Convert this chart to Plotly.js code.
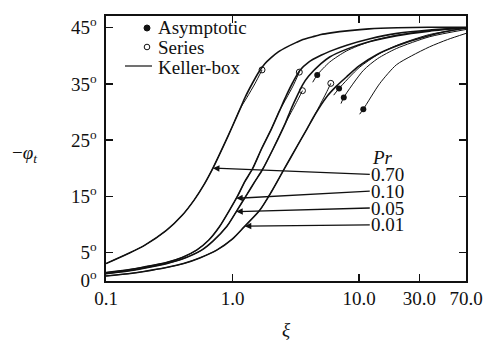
<!DOCTYPE html>
<html>
<head>
<meta charset="utf-8">
<script src="https://cdn.plot.ly/plotly-3.0.1.min.js"></script>
<style>html,body{margin:0;padding:0;background:#fff;}#chart{width:484px;height:342px;}</style>
</head>
<body>
<div id="chart"></div>
<script>
// ---------- data ----------
const prLabels = ['0.70', '0.10', '0.05', '0.01'];

// Keller-box solutions
const kb070Xi  = [0.1,0.15,0.2,0.3,0.4,0.5,0.6,0.7,0.85,1.0,1.15,1.25,1.45,1.6,1.8,2.0,2.3,2.7,3.2,3.6,4.3,5.0,6.0,8.4,12,20,35,70];
const kb070Deg = [3.0,4.8,6.2,8.9,11.6,14.4,17.2,20.0,24.0,27.5,30.6,32.5,35.3,37.0,38.6,39.6,40.7,41.6,42.4,42.9,43.4,43.8,44.1,44.5,44.8,45.0,45.1,45.1];
const kb010Xi  = [0.1,0.15,0.2,0.3,0.4,0.52,0.65,0.79,0.94,1.1,1.25,1.44,1.7,2.03,2.35,2.67,3.0,3.4,4.0,5.0,5.86,8,12,20,36,70];
const kb010Deg = [1.4,1.9,2.4,3.2,4.1,5.4,7.2,9.6,12.4,15.1,17.6,19.9,23.5,27.0,30.2,33.0,35.3,37.4,38.9,40.1,40.8,41.9,43.0,44.0,44.6,45.0];
const kb005Xi  = [0.1,0.15,0.2,0.3,0.4,0.57,0.7,0.9,1.08,1.29,1.5,1.73,2.1,2.59,2.9,3.2,3.57,4.0,5.0,5.86,8,12,20,36,70];
const kb005Deg = [1.2,1.7,2.2,3.0,3.8,5.4,7.0,9.6,12.4,15.2,17.6,19.8,23.5,27.8,30.5,32.6,34.8,36.4,38.6,39.8,41.2,42.5,43.6,44.4,45.0];
const kb001Xi  = [0.1,0.15,0.2,0.3,0.41,0.55,0.75,1.0,1.23,1.64,2.03,2.51,3.2,3.88,4.5,5.5,6.62,8,10,14,20,28,40,70];
const kb001Deg = [0.8,1.2,1.6,2.3,3.0,4.0,5.4,7.4,9.5,12.5,15.8,19.5,23.7,27.0,29.6,32.6,34.6,36.3,38.2,40.3,41.8,42.9,43.9,45.0];

// Series solutions (small xi), ending at the open circles
const se070Xi  = [0.1,0.15,0.2,0.3,0.4,0.5,0.6,0.7,0.85,1.0,1.15,1.3,1.5,1.71];
const se070Deg = [3.0,4.8,6.2,8.9,11.6,14.4,17.2,20.0,24.0,27.5,30.6,32.6,35.0,37.5];
const se010Xi  = [0.1,0.15,0.2,0.3,0.4,0.52,0.65,0.79,0.94,1.1,1.25,1.44,1.7,2.03,2.35,2.67,3.0,3.37];
const se010Deg = [1.4,1.9,2.4,3.2,4.1,5.4,7.2,9.6,12.4,15.1,17.6,19.9,23.5,27.0,30.2,32.5,34.6,37.1];
const se005Xi  = [0.1,0.15,0.2,0.3,0.4,0.57,0.7,0.9,1.08,1.29,1.5,1.73,2.1,2.59,2.9,3.2,3.57];
const se005Deg = [1.2,1.7,2.2,3.0,3.8,5.4,7.0,9.6,12.4,15.2,17.6,19.8,23.5,27.8,29.9,31.7,33.8];
const se001Xi  = [0.1,0.15,0.2,0.3,0.41,0.55,0.75,1.0,1.23,1.64,2.03,2.51,3.2,3.88,4.5,5.0,5.5,5.98];
const se001Deg = [0.8,1.2,1.6,2.3,3.0,4.0,5.4,7.4,9.5,12.5,15.8,19.5,23.7,27.0,29.6,31.6,33.4,35.1];

// Asymptotic solutions (large xi), starting at the filled dots
const asAXi  = [4.3,4.67,5.86,8,12,20,40,70];
const asADeg = [35.3,36.6,38.9,40.9,42.5,43.7,44.6,45.0];
const asBXi  = [6.3,6.95,10,14,20,36,70];
const asBDeg = [33.0,34.2,37.9,40.2,41.9,43.8,44.9];
const asCXi  = [7.2,7.57,10.8,14,19.7,36,70];
const asCDeg = [31.5,32.6,37.4,39.5,41.3,43.4,44.7];
const asDXi  = [10.1,10.8,14.6,19.7,26,36,50,70];
const asDDeg = [29.6,30.5,35.1,38.4,40.0,41.6,42.9,44.0];

const asymDotXi  = [4.67,6.95,7.57,10.8];
const asymDotDeg = [36.6,34.2,32.6,30.5];
const seriesEndXi  = [1.71,3.37,3.57,5.98];
const seriesEndDeg = [37.5,37.1,33.8,35.1];

// label arrows: xi where each arrow touches its Keller-box curve, and label level
const arrowTipXi = [0.70,1.07,1.07,1.25];
const labelDeg   = [18.9,15.9,12.9,9.9];
const labelXi    = 12.15;

const xTickVals = [0.1,1,10,30,70];
const xTickText = ['0.1','1.0','10.0','30.0','70.0'];
const yTickVals = [0,5,15,25,35,45];
const yTickText = yTickVals.map(v => v + '<sup>o</sup>');

// ---------- drawing ----------
const FONT = 'Liberation Serif, Times New Roman, serif';
const K = '#111';

const kbSets = [[kb070Xi,kb070Deg],[kb010Xi,kb010Deg],[kb005Xi,kb005Deg],[kb001Xi,kb001Deg]];
const seSets = [[se070Xi,se070Deg],[se010Xi,se010Deg],[se005Xi,se005Deg],[se001Xi,se001Deg]];
const asSets = [[asAXi,asADeg],[asBXi,asBDeg],[asCXi,asCDeg],[asDXi,asDDeg]];

const traces = [];
kbSets.forEach((s,i) => traces.push({x:s[0], y:s[1], mode:'lines', name:'Keller-box Pr='+prLabels[i],
  line:{color:K, width:1.6, shape:'spline', smoothing:0.7}, showlegend:false}));
seSets.forEach((s,i) => traces.push({x:s[0], y:s[1], mode:'lines', name:'Series Pr='+prLabels[i],
  line:{color:K, width:1.0, shape:'spline', smoothing:0.7}, showlegend:false}));
asSets.forEach((s,i) => traces.push({x:s[0], y:s[1], mode:'lines', name:'Asymptotic',
  line:{color:K, width:1.0, shape:'spline', smoothing:0.7}, showlegend:false}));
traces.push({x:asymDotXi, y:asymDotDeg, mode:'markers', name:'Asymptotic',
  marker:{symbol:'circle', size:6, color:K}, showlegend:false});
traces.push({x:seriesEndXi, y:seriesEndDeg, mode:'markers', name:'Series',
  marker:{symbol:'circle-open', size:6, color:K, line:{width:1}}, showlegend:false});

function interpLog(xs, ys, x) {
  const lx = Math.log10(x);
  for (let i = 0; i < xs.length - 1; i++) {
    const a = Math.log10(xs[i]), b = Math.log10(xs[i+1]);
    if (lx >= a && lx <= b) return ys[i] + (ys[i+1]-ys[i])*(lx-a)/(b-a);
  }
  return ys[ys.length-1];
}

const L = 106, T = 16, W = 360, H = 265;
const px = v => (v - L) / W;
const py = v => (T + H - v) / H;

const annotations = [];
prLabels.forEach((lab,i) => {
  const tipXi = arrowTipXi[i];
  const tipDeg = interpLog(kbSets[i][0], kbSets[i][1], tipXi);
  annotations.push({x:Math.log10(tipXi), y:tipDeg, xref:'x', yref:'y',
    ax:Math.log10(labelXi), ay:labelDeg[i], axref:'x', ayref:'y',
    text:lab, xanchor:'left', yanchor:'middle', borderpad:0, height:15,
    showarrow:true, arrowhead:2, arrowsize:1, arrowwidth:1.3, arrowcolor:K, standoff:0,
    font:{family:FONT, size:19, color:K}});
});
annotations.push({x:px(371), y:py(157), xref:'paper', yref:'paper', text:'<i>Pr</i>',
  showarrow:false, xanchor:'left', yanchor:'middle', borderpad:0, height:15,
  font:{family:FONT, size:19, color:K}});
// legend texts
[['Asymptotic',27],['Series',48],['Keller-box',67.5]].forEach(([t,y]) => annotations.push({
  x:px(156), y:py(y), xref:'paper', yref:'paper', text:t, showarrow:false,
  xanchor:'left', yanchor:'middle', font:{family:FONT, size:19, color:K}}));
// axis titles
annotations.push({x:px(24), y:py(154), xref:'paper', yref:'paper', text:'−<i>φ</i><sub><i>t</i></sub>',
  showarrow:false, xanchor:'center', yanchor:'middle', font:{family:FONT, size:19, color:K}});
annotations.push({x:px(286), y:py(329), xref:'paper', yref:'paper', text:'<i>ξ</i>',
  showarrow:false, xanchor:'center', yanchor:'middle', font:{family:FONT, size:19, color:K}});

const shapes = [
  {type:'circle', xref:'paper', yref:'paper', xsizemode:'pixel', ysizemode:'pixel',
   xanchor:px(147), yanchor:py(28), x0:-3, x1:3, y0:-3, y1:3, fillcolor:K, line:{color:K, width:1}},
  {type:'circle', xref:'paper', yref:'paper', xsizemode:'pixel', ysizemode:'pixel',
   xanchor:px(147), yanchor:py(47), x0:-2.8, x1:2.8, y0:-2.8, y1:2.8, fillcolor:'rgba(0,0,0,0)', line:{color:K, width:1}},
  {type:'line', xref:'paper', yref:'paper', x0:px(125), x1:px(152), y0:py(66), y1:py(66), line:{color:K, width:1.2}}
];

const axisCommon = {showgrid:false, zeroline:false, showline:true, linecolor:K, linewidth:1.6,
  mirror:'ticks', ticks:'inside', tickcolor:K, tickwidth:1.4, ticklen:7,
  tickfont:{family:FONT, size:19, color:K}};

const layout = {
  width:484, height:342, margin:{l:L, r:18, t:T, b:61},
  paper_bgcolor:'#fff', plot_bgcolor:'#fff', showlegend:false,
  xaxis:Object.assign({}, axisCommon, {type:'log', range:[-1, Math.log10(70)],
    tickmode:'array', tickvals:xTickVals, ticktext:xTickText}),
  yaxis:Object.assign({}, axisCommon, {range:[-0.1, 47.1],
    tickmode:'array', tickvals:yTickVals, ticktext:yTickText, ticklabelstandoff:4}),
  annotations:annotations, shapes:shapes
};

Plotly.newPlot('chart', traces, layout, {staticPlot:true, displayModeBar:false});
</script>
</body>
</html>
